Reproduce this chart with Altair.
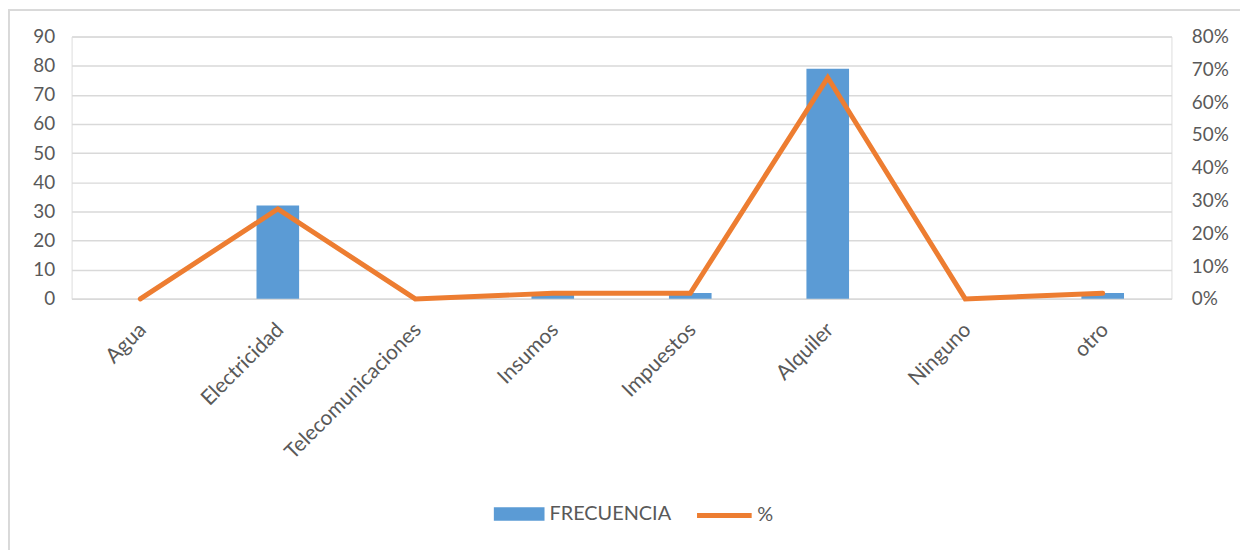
import altair as alt
import pandas as pd

categories = ["Agua", "Electricidad", "Telecomunicaciones", "Insumos",
              "Impuestos", "Alquiler", "Ninguno", "otro"]
frecuencia = [0, 32, 0, 2, 2, 79, 0, 2]
porcentaje = [0.0, 0.274, 0.0, 0.017, 0.017, 0.675, 0.0, 0.017]
left_ticks = [0, 10, 20, 30, 40, 50, 60, 70, 80, 90]
right_ticks = [0, 0.1, 0.2, 0.3, 0.4, 0.5, 0.6, 0.7, 0.8]

df = pd.DataFrame({"cat": categories, "FRECUENCIA": frecuencia, "pct": porcentaje})

FONT = "Lato"
GRAY = "#595959"
W, H = 1107, 264

x = alt.X("cat:N", sort=categories, title=None,
          scale=alt.Scale(paddingInner=0.69, paddingOuter=0.345),
          axis=alt.Axis(labelAngle=-45, labelFontSize=21, labelColor=GRAY, labelFont=FONT,
                        labelLimit=0, labelOffset=-5,
                        ticks=False, domainColor="#D9D9D9", domainWidth=1.5, labelPadding=20))

bars = alt.Chart(df).mark_bar(color="#5B9BD5").encode(
    x=x,
    y=alt.Y("FRECUENCIA:Q", title=None,
            scale=alt.Scale(domain=[0, 90], nice=False),
            axis=alt.Axis(values=left_ticks, grid=True, gridColor="#D9D9D9", gridWidth=1.5,
                          domain=False, ticks=False, labelFontSize=19, labelColor=GRAY,
                          labelFont=FONT, labelPadding=17)),
    fill=alt.Fill("s:N", scale=alt.Scale(domain=["FRECUENCIA"], range=["#5B9BD5"]),
                  legend=alt.Legend(title=None, orient="none", legendX=425, legendY=455,
                                    symbolType="M-1,-0.27L1,-0.27L1,0.27L-1,0.27Z",
                                    symbolSize=2601, symbolStrokeWidth=0,
                                    labelFontSize=20, labelColor=GRAY, labelFont=FONT,
                                    labelOffset=5)),
).transform_calculate(s="'FRECUENCIA'")

line = alt.Chart(df).mark_line(strokeWidth=5, strokeCap="round", strokeJoin="miter").encode(
    x=x,
    y=alt.Y("pct:Q", title=None,
            scale=alt.Scale(domain=[0, 0.8], nice=False),
            axis=alt.Axis(orient="right", values=right_ticks, format=".0%", grid=False,
                          domain=False, ticks=False, labelFontSize=19, labelColor=GRAY,
                          labelFont=FONT, labelPadding=20)),
    stroke=alt.Stroke("s:N", scale=alt.Scale(domain=["%"], range=["#ED7D31"]),
                      legend=alt.Legend(title=None, orient="none", legendX=627, legendY=452,
                                        symbolType="stroke", symbolSize=3025,
                                        symbolStrokeWidth=5,
                                        labelFontSize=20, labelColor=GRAY, labelFont=FONT,
                                        labelOffset=3)),
).transform_calculate(s="'%'")

frame = alt.Chart(df).mark_rect(fill=None, stroke="#D9D9D9", strokeWidth=1.5, clip=False).encode(
    x=alt.value(-63), x2=alt.value(1200), y=alt.value(-26.5), y2=alt.value(600)
)

chart = alt.layer(frame, bars, line).resolve_scale(y="independent", fill="independent",
                                                   stroke="independent").properties(
    width=W, height=H,
    autosize=alt.AutoSizeParams(type="none"),
    padding={"left": 64, "top": 27, "right": 1240 - 64 - W, "bottom": 542 - 27 - H},
).configure_view(stroke=None).configure(background="white")

chart.save("out.html", embed_options={"renderer": "svg", "actions": False})
